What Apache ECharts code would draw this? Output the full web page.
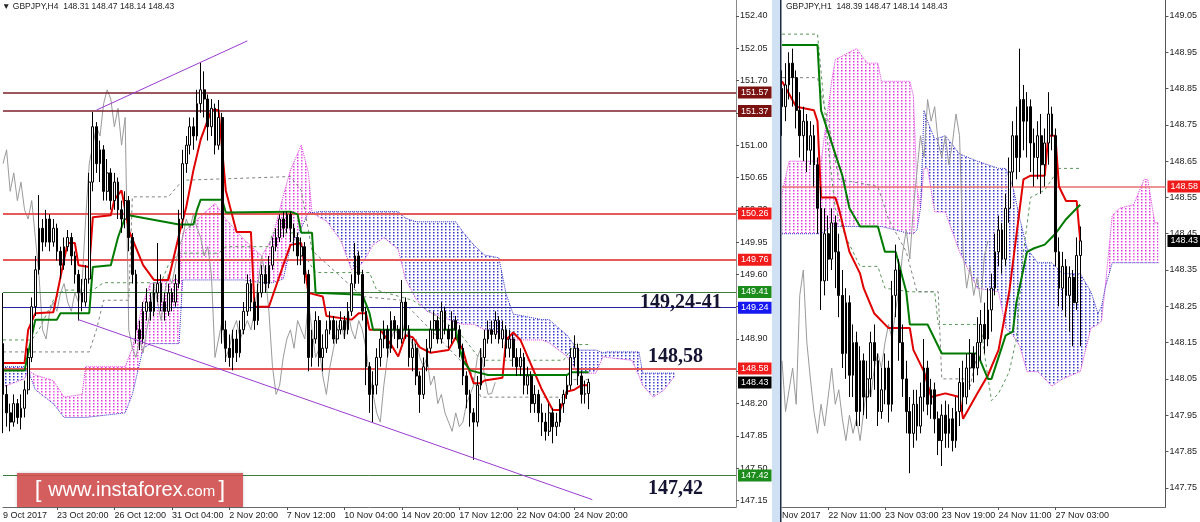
<!DOCTYPE html>
<html><head><meta charset="utf-8">
<script src="https://cdn.jsdelivr.net/npm/echarts@6/dist/echarts.min.js"></script>
<style>html,body{margin:0;padding:0;background:#fff}#c{width:1200px;height:522px}</style>
</head><body><div id="c"></div><script>
// ---------- LEFT PANEL (H4) ----------
const leftBarCount = 205;
const leftTickIdx = [0,15,31,47,63,79,95,111,127,143,159];
const leftTickText = ['9 Oct 2017','23 Oct 20:00','26 Oct 12:00','31 Oct 04:00','2 Nov 20:00','7 Nov 12:00','10 Nov 04:00','14 Nov 20:00','17 Nov 12:00','22 Nov 04:00','24 Nov 20:00'];
const leftYTicks = [147.15,147.50,147.85,148.20,148.55,148.90,149.25,149.60,149.95,150.30,150.65,151.00,151.35,151.70,152.05,152.40];
const leftFirstOpen = 148.85;
const leftClose = [148.30,148.10,148.00,148.20,148.05,148.15,148.35,148.70,149.25,149.65,150.10,149.95,150.20,149.95,150.10,149.85,149.70,149.90,150.00,149.80,149.60,149.40,149.30,149.55,150.60,151.20,150.80,150.95,150.50,150.70,150.40,150.60,150.30,150.20,150.40,150.00,149.60,149.00,148.90,149.20,149.30,149.20,149.40,149.50,149.30,149.20,149.40,149.30,149.50,150.20,150.80,151.00,151.20,151.10,151.45,151.60,151.50,151.20,151.40,151.00,151.30,149.00,148.80,148.70,148.90,148.75,149.00,149.20,149.50,149.30,149.10,149.40,149.60,149.50,149.70,149.90,150.00,150.20,150.10,150.25,150.10,150.00,149.80,149.90,149.60,148.70,148.90,149.10,148.70,148.80,149.00,149.10,148.90,149.00,149.10,149.00,149.20,149.50,149.80,149.60,149.20,148.60,148.30,148.40,148.70,148.90,149.00,148.80,149.10,149.00,148.90,149.30,149.00,148.70,148.80,148.50,148.30,148.60,148.80,149.00,149.10,148.90,149.20,149.00,148.90,149.10,149.00,148.80,148.50,148.30,148.10,148.00,148.40,148.70,148.90,149.00,148.95,149.10,148.90,149.00,148.80,148.90,148.70,148.60,148.70,148.40,148.50,148.20,148.30,148.10,148.00,147.90,148.10,147.95,148.00,148.20,148.30,148.40,148.70,148.80,148.50,148.30,148.31,148.43];
const leftHigh = [149.40,148.40,148.20,148.30,148.25,148.30,148.45,148.80,149.35,149.80,150.46,150.20,150.30,150.25,150.20,150.15,149.90,150.00,150.08,150.05,149.85,149.65,149.55,149.70,150.70,151.36,151.25,151.05,151.00,150.85,150.75,150.70,150.65,150.40,150.50,150.45,150.05,149.65,149.10,149.30,149.45,149.40,149.50,149.94,149.60,149.40,149.50,149.45,149.60,150.30,150.95,151.10,151.30,151.30,151.60,151.90,151.80,151.55,151.50,151.45,151.49,151.35,149.10,148.95,149.00,149.00,149.10,149.30,149.60,149.55,149.35,149.50,149.70,149.70,149.80,150.00,150.10,150.25,150.28,150.28,150.28,150.15,150.05,150.00,149.95,149.65,149.00,149.20,149.15,148.95,149.10,149.20,149.15,149.10,149.20,149.15,149.30,149.60,149.94,149.85,149.65,149.25,148.65,148.55,148.80,149.00,149.10,149.05,149.20,149.15,149.05,149.54,149.35,149.05,148.90,148.85,148.55,148.70,148.90,149.10,149.20,149.15,149.30,149.25,149.05,149.20,149.15,149.05,148.85,148.55,148.35,148.15,148.50,148.80,149.00,149.10,149.10,149.20,149.15,149.10,149.05,149.00,148.95,148.80,148.80,148.75,148.60,148.55,148.40,148.35,148.20,148.10,148.20,148.15,148.10,148.25,148.35,148.50,148.80,148.94,148.85,148.55,148.45,148.47];
const leftLow = [147.88,147.95,147.90,147.95,147.98,147.92,148.05,148.30,148.65,149.15,149.60,149.85,149.90,149.85,149.90,149.75,149.55,149.65,149.85,149.70,149.50,149.10,149.20,149.25,149.50,150.50,150.70,150.60,150.40,150.40,150.30,150.30,150.20,150.05,150.10,149.85,149.50,148.85,148.78,148.85,149.10,149.10,149.15,149.30,149.20,149.10,149.15,149.20,149.25,149.45,150.10,150.70,150.90,150.95,151.05,151.35,151.30,151.05,151.10,150.90,150.95,148.85,148.65,148.60,148.56,148.65,148.70,148.95,149.15,149.20,149.00,149.05,149.35,149.40,149.45,149.65,149.85,149.95,150.00,150.05,149.95,149.85,149.70,149.70,149.50,148.55,148.60,148.85,148.60,148.55,148.75,148.95,148.85,148.85,148.95,148.90,148.95,149.15,149.45,149.50,149.10,148.40,148.10,148.00,148.30,148.60,148.80,148.70,148.75,148.90,148.80,148.85,148.90,148.60,148.55,148.40,148.10,148.25,148.55,148.75,148.90,148.85,148.85,148.95,148.80,148.85,148.90,148.70,148.40,148.15,147.95,147.59,147.95,148.35,148.60,148.85,148.85,148.90,148.85,148.80,148.70,148.70,148.60,148.50,148.50,148.30,148.30,148.10,148.10,148.00,147.85,147.80,147.85,147.77,147.85,147.95,148.10,148.25,148.35,148.60,148.40,148.20,148.20,148.14];
const leftTenkan = [[0,148.64],[6,148.64],[7,149.00],[9,149.18],[14,149.19],[17,149.76],[18,149.94],[20,149.94],[21,149.70],[24,149.68],[25,150.22],[30,150.24],[31,150.41],[33,150.51],[34,150.30],[35,150.08],[39,149.70],[42,149.54],[46,149.54],[47,149.70],[49,150.03],[51,150.33],[53,150.73],[55,151.06],[58,151.38],[60,151.38],[61,150.95],[62,150.51],[65,150.06],[69,150.06],[70,149.25],[74,149.25],[78,149.70],[80,149.92],[83,149.94],[85,149.40],[89,149.36],[90,149.15],[97,149.11],[99,149.18],[101,149.18],[102,149.00],[105,149.00],[108,148.84],[110,148.71],[112,148.94],[114,148.92],[116,148.81],[119,148.75],[124,148.78],[126,148.92],[128,148.78],[129,148.64],[131,148.42],[133,148.42],[134,148.45],[139,148.48],[140,148.89],[142,148.97],[144,148.89],[146,148.71],[150,148.35],[153,148.13],[155,148.13],[157,148.33],[159,148.35],[161,148.40],[163,148.40]];
const leftKijun = [[0,148.56],[6,148.56],[9,149.11],[15,149.11],[16,149.18],[24,149.18],[25,149.68],[30,149.70],[32,150.00],[34,150.22],[35,150.24],[49,150.14],[53,150.14],[54,150.30],[55,150.41],[61,150.41],[62,150.27],[80,150.28],[82,150.25],[83,150.05],[86,150.05],[87,149.40],[100,149.38],[102,149.18],[103,149.00],[120,149.00],[126,149.00],[127,148.81],[128,148.67],[130,148.56],[135,148.51],[157,148.51],[158,148.54],[163,148.54]];
// cloud vertices: [bar, senkou A, senkou B]
const leftCloud = [[0,148.38,148.60],[6,148.47,148.60],[7,148.56,148.56],[9,148.51,148.35],[14,148.45,148.20],[17,148.27,148.05],[22,148.30,148.05],[23,148.60,148.05],[34,148.60,148.10],[36,148.80,148.30],[39,149.30,148.80],[41,149.50,148.85],[49,149.55,148.85],[50,150.05,149.54],[59,150.37,149.54],[62,150.20,149.54],[67,149.98,149.54],[72,149.80,149.51],[75,150.00,149.51],[78,150.45,149.55],[80,150.73,149.90],[83,151.00,150.10],[85,150.70,150.27],[86,150.27,150.27],[88,150.22,150.28],[90,150.18,150.28],[94,149.97,150.28],[97,149.65,150.28],[100,149.72,150.28],[103,149.92,150.28],[106,150.00,150.28],[110,149.87,150.28],[112,149.55,150.21],[115,149.33,150.17],[118,149.20,150.17],[126,149.08,150.17],[128,149.06,150.06],[131,149.06,149.92],[134,149.00,149.81],[138,148.97,149.78],[140,148.91,149.39],[142,148.89,149.17],[150,148.89,149.11],[152,148.86,149.11],[157,148.71,148.94],[160,148.53,148.78],[165,148.53,148.78],[167,148.71,148.75],[168,148.70,148.76],[175,148.67,148.76],[177,148.50,148.76],[178,148.40,148.53],[181,148.27,148.53],[184,148.35,148.53],[187,148.50,148.53]];
const leftDashA = [[0,148.89],[8,148.89],[10,149.00],[14,149.32],[17,149.43],[25,149.43],[28,149.51],[44,149.51],[46,149.70],[49,149.83],[60,149.83],[62,149.90],[74,149.90],[75,150.05],[82,150.05],[83,149.86],[87,149.62],[102,149.62],[104,149.43],[114,149.32],[122,149.11],[127,148.97],[133,148.67],[156,148.67],[159,148.84],[163,148.84]];
const leftDashB = [[0,148.76],[24,148.76],[26,149.00],[28,149.32],[35,149.32],[36,150.44],[46,150.44],[50,150.62],[80,150.66],[83,150.51],[86,149.86],[100,149.36],[111,149.32],[119,149.00],[130,148.56],[133,148.27],[156,148.27],[158,148.46],[163,148.46]];
const leftTrendUp = [[26,151.38],[68,152.13]];
const leftTrendDown = [[21,149.11],[164,147.16]];
const leftLevels = [151.57,151.37,150.26,149.76,149.41,149.24,148.58,148.43,147.42];
const leftLevelKinds = ['maroon','maroon','red','red','green','blue','red','price','green'];
const chikouShift = 26;

// ---------- RIGHT PANEL (H1) ----------
const rightBarCount = 109;
const rightTickIdx = [0,13,29,45,61,77];
const rightTickText = ['Nov 2017','22 Nov 11:00','23 Nov 03:00','23 Nov 19:00','24 Nov 11:00','27 Nov 03:00'];
const rightYTicks = [147.75,147.85,147.95,148.05,148.15,148.25,148.35,148.45,148.55,148.65,148.75,148.85,148.95,149.05];
const rightFirstOpen = 148.85;
const rightClose = [148.80,148.86,148.92,148.88,148.79,148.72,148.76,148.68,148.72,148.64,148.52,148.32,148.45,148.38,148.48,148.40,148.28,148.12,148.26,148.06,148.15,147.96,148.10,148.00,148.05,148.15,148.10,147.96,148.02,148.08,147.98,148.28,148.35,148.15,148.05,147.96,147.90,147.98,147.92,148.00,148.08,147.98,148.02,147.94,147.88,147.95,147.90,147.94,147.88,147.96,148.04,148.00,148.08,148.12,148.08,148.15,148.20,148.16,148.24,148.30,148.40,148.46,148.38,148.52,148.62,148.72,148.66,148.82,148.76,148.80,148.70,148.66,148.72,148.64,148.70,148.78,148.72,148.40,148.30,148.36,148.28,148.33,148.26,148.39,148.43];
const rightHigh = [148.90,148.92,148.95,148.96,148.90,148.84,148.80,148.78,148.76,148.75,148.66,148.58,148.52,148.50,148.52,148.50,148.45,148.35,148.30,148.28,148.20,148.18,148.14,148.12,148.10,148.18,148.20,148.12,148.08,148.12,148.10,148.32,148.42,148.38,148.20,148.10,148.00,148.02,148.02,148.04,148.16,148.10,148.05,148.04,147.96,147.98,147.99,147.98,147.97,148.00,148.08,148.10,148.12,148.16,148.14,148.22,148.24,148.26,148.30,148.34,148.45,148.50,148.48,148.56,148.66,148.76,148.80,148.96,148.86,148.84,148.82,148.74,148.76,148.78,148.74,148.84,148.80,148.74,148.44,148.40,148.38,148.36,148.35,148.44,148.47];
const rightLow = [148.72,148.76,148.82,148.80,148.74,148.66,148.65,148.62,148.64,148.58,148.45,148.24,148.28,148.32,148.35,148.30,148.22,148.08,148.05,148.00,148.00,147.92,147.92,147.95,147.94,148.00,148.02,147.92,147.94,147.98,147.93,147.96,148.22,148.10,148.00,147.90,147.79,147.86,147.88,147.90,147.96,147.95,147.94,147.90,147.84,147.81,147.86,147.86,147.85,147.86,147.92,147.96,147.98,148.02,148.04,148.06,148.10,148.12,148.14,148.18,148.28,148.36,148.34,148.36,148.48,148.58,148.60,148.62,148.68,148.66,148.62,148.58,148.60,148.56,148.58,148.64,148.68,148.36,148.25,148.24,148.22,148.18,148.14,148.24,148.14];
const rightTenkan = [[0,148.87],[4,148.80],[9,148.79],[10,148.76],[11,148.55],[15,148.55],[16,148.52],[19,148.40],[22,148.34],[23,148.30],[26,148.23],[30,148.19],[36,148.19],[37,148.13],[40,148.07],[42,148.00],[46,148.01],[50,148.00],[51,147.94],[55,148.01],[58,148.06],[61,148.13],[64,148.29],[68,148.60],[70,148.61],[74,148.61],[75,148.72],[77,148.72],[78,148.58],[80,148.54],[83,148.54],[84,148.43]];
const rightKijun = [[0,148.97],[10,148.97],[11,148.79],[17,148.61],[19,148.52],[22,148.47],[27,148.47],[29,148.40],[32,148.40],[35,148.29],[36,148.20],[41,148.20],[45,148.12],[55,148.12],[58,148.05],[59,148.05],[63,148.17],[65,148.18],[66,148.26],[69,148.40],[71,148.41],[74,148.42],[77,148.45],[80,148.49],[83,148.52],[84,148.53]];
const rightCloud = [[0,148.56,148.45],[2,148.65,148.45],[11,148.65,148.45],[14,148.87,148.47],[15,148.93,148.47],[21,148.96,148.47],[24,148.92,148.47],[27,148.92,148.47],[28,148.87,148.47],[36,148.87,148.45],[37,148.83,148.45],[38,148.58,148.46],[39,148.52,148.52],[40,148.63,148.79],[41,148.63,148.76],[43,148.51,148.71],[46,148.51,148.72],[50,148.40,148.67],[55,148.30,148.65],[61,148.29,148.63],[63,148.19,148.63],[65,148.17,148.58],[67,148.14,148.49],[69,148.07,148.41],[72,148.07,148.37],[76,148.03,148.37],[79,148.05,148.34],[84,148.07,148.34],[87,148.19,148.29],[89,148.20,148.23],[90,148.21,148.25],[91,148.30,148.30],[93,148.50,148.37],[95,148.52,148.37],[99,148.53,148.37],[102,148.60,148.37],[103,148.60,148.37],[105,148.48,148.37],[106,148.48,148.37]];
const rightDashA = [[0,149.00],[10,149.00],[13,148.69],[15,148.52],[18,148.44],[22,148.36],[27,148.36],[29,148.30],[36,148.29],[43,148.29],[44,148.20],[56,148.20],[57,148.12],[59,147.99],[61,148.01],[64,148.07],[66,148.16],[68,148.40],[70,148.55],[74,148.57],[78,148.63],[84,148.63]];
const rightDashB = [[0,148.88],[10,148.88],[13,148.76],[16,148.60],[27,148.58],[30,148.49],[35,148.40],[38,148.29],[44,148.29],[45,148.05],[52,148.05],[53,148.03],[55,148.12],[57,148.17]];
const rightLevels = [148.58,148.43];
const rightLevelKinds = ['redLight','price'];

// ---------- build ----------
const levelStyle = {
  maroon:{line:'#7d1f2a', w:1.5, bg:'#7a1212'},
  red:{line:'#e65a5a', w:2, bg:'#f01c1c'},
  redLight:{line:'#e87070', w:1.5, bg:'#f01c1c'},
  green:{line:'#3b7b3b', w:1, bg:'#1c8c1c'},
  blue:{line:'#2424a0', w:1, bg:'#1818f0'},
  price:{line:'rgba(0,0,0,0)', w:0, bg:'#000000'}
};
function ohlc(close, high, low, firstOpen){
  return close.map((c,i)=>[i===0?firstOpen:close[i-1], c, low[i], high[i]]);
}
function chikou(close){
  const out=[]; close.forEach((c,i)=>{ if(i-chikouShift>=0) out.push([i-chikouShift,c]); }); return out;
}
function cats(n){ return Array.from({length:n},(_,i)=>String(i)); }
function dotPattern(color){
  const c=document.createElement('canvas'); c.width=4; c.height=3;
  const g=c.getContext('2d'); g.fillStyle=color; g.fillRect(1,1,1.5,1.5);
  return {image:c, repeat:'repeat'};
}
const pinkPat = dotPattern('#e33ae3');
const bluePat = dotPattern('#3535c8');
function cloudSeries(verts, xi){
  return {type:'custom', xAxisIndex:xi, yAxisIndex:xi, z:1, clip:true, silent:true,
    data: verts, encode:{x:0, y:[1,2]},
    renderItem:function(params, api){
      const k=params.dataIndexInside;
      if(k>=verts.length-1) return null;
      const a=verts[k], b=verts[k+1];
      const pts=[api.coord([a[0],a[1]]),api.coord([b[0],b[1]]),api.coord([b[0],b[2]]),api.coord([a[0],a[2]])];
      const pink=(a[1]+b[1])>=(a[2]+b[2]);
      return {type:'polygon', shape:{points:pts}, style:{fill: pink?pinkPat:bluePat, stroke:null}};
    }};
}
function lineS(data, xi, color, width, type, z){
  return {type:'line', xAxisIndex:xi, yAxisIndex:xi, data, symbol:'none', silent:true, z:z||3,
    lineStyle:{color, width, type:type||'solid'}, animation:false};
}
function levelsSeries(levels, kinds, xi){
  return {type:'line', xAxisIndex:xi, yAxisIndex:xi, data:[], silent:true, z:4,
    markLine:{silent:true, symbol:['none','none'], animation:false,
      data: levels.map((v,k)=>{ const s=levelStyle[kinds[k]]; return {yAxis:v,
        lineStyle:{color:s.line, width:s.w, type:'solid'},
        label:{show:true, position:'end', distance:2, formatter:v.toFixed(2), color:'#fff', backgroundColor:s.bg,
          fontSize:9, fontFamily:'Liberation Sans', padding:[2,3,1,3]}}; })}};
}
function xAxisCfg(gi, n, idx, txt){
  const map={}; idx.forEach((v,k)=>map[v]=txt[k]);
  return {type:'category', gridIndex:gi, data:cats(n), boundaryGap:false,
    axisLine:{show:true, lineStyle:{color:'#6b6b6b', width:1}},
    axisTick:{show:true, length:3, lineStyle:{color:'#555'}, interval:(i)=> map[i]!==undefined && i>0},
    axisLabel:{show:true, interval:(i)=> map[i]!==undefined, formatter:(v,i)=>map[i]||'', align:'left',
      fontSize:9, fontFamily:'Liberation Sans', color:'#222', margin:4},
    splitLine:{show:false}};
}
function yAxisCfg(gi, min, max, ticks, lineColor){
  return {type:'value', gridIndex:gi, position:'right', min, max, scale:true,
    axisLine:{show:true, lineStyle:{color:lineColor, width:1}},
    axisTick:{show:true, length:3, customValues:ticks, lineStyle:{color:'#555'}},
    axisLabel:{show:true, customValues:ticks, formatter:(v)=>v.toFixed(2), fontSize:9, fontFamily:'Liberation Sans', color:'#222', margin:4},
    splitLine:{show:false}};
}
const candleStyle = {color:'#ffffff', color0:'#000000', borderColor:'#000000', borderColor0:'#000000', borderWidth:1};

const chart = echarts.init(document.getElementById('c'), null, {renderer:'canvas'});
chart.setOption({
  animation:false,
  backgroundColor:'#ffffff',
  grid:[{left:0, top:0, width:736, height:507}, {left:782, top:0, width:385, height:507}],
  xAxis:[xAxisCfg(0,leftBarCount,leftTickIdx,leftTickText), xAxisCfg(1,rightBarCount,rightTickIdx,rightTickText)],
  yAxis:[yAxisCfg(0,147.080,152.573,leftYTicks,'#8a8a8a'), yAxisCfg(1,147.697,149.094,rightYTicks,'#555')],
  series:[
    cloudSeries(leftCloud,0),
    lineS(leftCloud.map(v=>[v[0],v[1]]),0,'#e03ce0',1,'dotted',2),
    lineS(leftCloud.map(v=>[v[0],v[2]]),0,'#3434c8',1,'dotted',2),
    lineS(leftDashA,0,'#5a965a',1,[3,3],2),
    lineS(leftDashB,0,'#7d857d',1,[3,3],2),
    lineS(chikou(leftClose),0,'#9a9a9a',1,'solid',3),
    levelsSeries(leftLevels,leftLevelKinds,0),
    lineS(leftTenkan,0,'#e00000',2,'solid',5),
    lineS(leftKijun,0,'#007a00',2,'solid',5),
    {type:'candlestick', xAxisIndex:0, yAxisIndex:0, data:ohlc(leftClose,leftHigh,leftLow,leftFirstOpen), barWidth:2.2, itemStyle:candleStyle, z:6, silent:true},
    lineS(leftTrendUp,0,'#9a3cd0',1,'solid',7),
    lineS(leftTrendDown,0,'#9a3cd0',1,'solid',7),

    cloudSeries(rightCloud,1),
    lineS(rightCloud.map(v=>[v[0],v[1]]),1,'#e03ce0',1,'dotted',2),
    lineS(rightCloud.map(v=>[v[0],v[2]]),1,'#3434c8',1,'dotted',2),
    lineS(rightDashA,1,'#5a965a',1,[3,3],2),
    lineS(rightDashB,1,'#7d857d',1,[3,3],2),
    lineS(chikou(rightClose),1,'#9a9a9a',1,'solid',3),
    levelsSeries(rightLevels,rightLevelKinds,1),
    lineS(rightTenkan,1,'#e00000',2,'solid',5),
    lineS(rightKijun,1,'#007a00',2,'solid',5),
    {type:'candlestick', xAxisIndex:1, yAxisIndex:1, data:ohlc(rightClose,rightHigh,rightLow,rightFirstOpen), barWidth:2.2, itemStyle:candleStyle, z:6, silent:true}
  ],
  graphic:[
    {type:'rect', shape:{x:772, y:0, width:8, height:522}, style:{fill:'#cfe1f3'}, z:100},
    {type:'rect', shape:{x:780, y:0, width:1.5, height:522}, style:{fill:'#1f2d44'}, z:100},
    {type:'text', x:2, y:2, style:{text:'▼ GBPJPY,H4  148.31 148.47 148.14 148.43', fontSize:8.5, fontFamily:'Liberation Sans', fill:'#222'}, z:100},
    {type:'text', x:786, y:2, style:{text:'GBPJPY,H1  148.39 148.47 148.14 148.43', fontSize:8.5, fontFamily:'Liberation Sans', fill:'#222'}, z:100},
    {type:'text', x:640, y:303, style:{text:'149,24-41', fontSize:20, fontWeight:'bold', fontFamily:'Liberation Serif', fill:'#141432', verticalAlign:'middle'}, z:100},
    {type:'text', x:648, y:357, style:{text:'148,58', fontSize:20, fontWeight:'bold', fontFamily:'Liberation Serif', fill:'#141432', verticalAlign:'middle'}, z:100},
    {type:'text', x:648, y:489, style:{text:'147,42', fontSize:20, fontWeight:'bold', fontFamily:'Liberation Serif', fill:'#141432', verticalAlign:'middle'}, z:100},
    {type:'rect', shape:{x:17, y:473, width:226, height:34}, style:{fill:'rgba(214,80,80,0.88)', shadowBlur:3, shadowColor:'rgba(0,0,0,0.25)'}, z:100},
    {type:'text', x:130, y:490, z:101, style:{
      text:'{b|[}  {w|www.instaforex}{c|.com} {b|]}', align:'center', verticalAlign:'middle',
      rich:{b:{fontSize:24, fontFamily:'Liberation Sans', fill:'#fff'}, w:{fontSize:20, fontFamily:'Liberation Sans', fill:'#fff'}, c:{fontSize:15, fontFamily:'Liberation Sans', fill:'#fff', padding:[4,0,0,0]}}}}
  ]
});
</script></body></html>
